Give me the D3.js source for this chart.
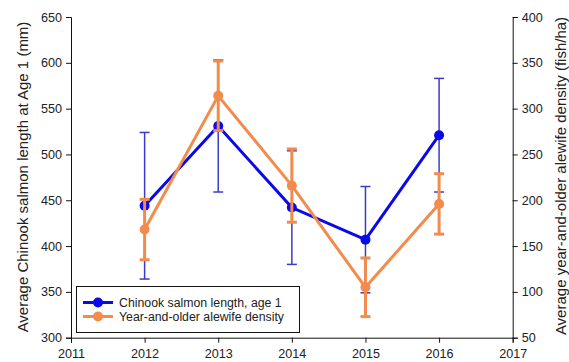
<!DOCTYPE html>
<html><head><meta charset="utf-8">
<script src="https://cdn.jsdelivr.net/npm/d3@7"></script>
<style>body{margin:0;background:#fff}svg{display:block}text{font-family:Arial,"Liberation Sans",sans-serif}</style>
</head><body>
<script>
const years = [2012, 2013, 2014, 2015, 2016];
const salmonLength = [444, 531, 442, 407, 521];
const salmonErr = [80, 72, 62, 58, 62];
const alewifeDensity = [168, 314, 216, 105, 196];
const alewifeErr = [33, 38, 40, 32, 33];
const xTicks = [2011, 2012, 2013, 2014, 2015, 2016, 2017];
const leftTicks = [300, 350, 400, 450, 500, 550, 600, 650];
const rightTicks = [50, 100, 150, 200, 250, 300, 350, 400];
const seriesNames = ["Chinook salmon length, age 1", "Year-and-older alewife density"];

const W = 569, H = 362;
const m = {l: 71, r: 56.3, t: 17, b: 24.3};
const svg = d3.select("body").append("svg").attr("width", W).attr("height", H);
const x = d3.scaleLinear().domain([2011, 2017]).range([m.l, W - m.r]);
const yL = d3.scaleLinear().domain([300, 650]).range([H - m.b, m.t]);
const yR = d3.scaleLinear().domain([50, 400]).range([H - m.b, m.t]);

const blue = "#0a0ae6", blueErr = "#3b3bc8", orange = "#f38b4c";

function styleAxis(g){
  g.selectAll("path,line").attr("stroke", "#111").attr("stroke-width", 1);
  g.selectAll("text").attr("fill", "#222").style("font-size", "12.6px");
}
svg.append("g").attr("transform", `translate(0,${H - m.b})`)
  .call(d3.axisBottom(x).tickValues(xTicks).tickFormat(d3.format("d")).tickSizeOuter(0).tickSize(5).tickPadding(6))
  .call(styleAxis);
svg.append("g").attr("transform", `translate(${m.l},0)`)
  .call(d3.axisLeft(yL).tickValues(leftTicks).tickSizeOuter(0).tickSize(5).tickPadding(4))
  .call(styleAxis);
svg.append("g").attr("transform", `translate(${W - m.r},0)`)
  .call(d3.axisRight(yR).tickValues(rightTicks).tickSizeOuter(0).tickSize(5).tickPadding(4))
  .call(styleAxis);

svg.append("text").attr("transform", `translate(27.5,177) rotate(-90)`).attr("text-anchor", "middle")
  .style("font-size", "15px").attr("fill", "#222").text("Average Chinook salmon length at Age 1 (mm)");
svg.append("text").attr("transform", `translate(566,176) rotate(-90)`).attr("text-anchor", "middle")
  .style("font-size", "15px").attr("fill", "#222").text("Average year-and-older alewife density (fish/ha)");

function drawSeries(vals, errs, y, color, ecolor, ew, lw){
  const g = svg.append("g");
  const data = years.map((yr, i) => ({yr, v: vals[i], e: errs[i]}));
  g.selectAll(".eb").data(data).join("line")
    .attr("x1", d => x(d.yr)).attr("x2", d => x(d.yr))
    .attr("y1", d => y(d.v - d.e)).attr("y2", d => y(d.v + d.e))
    .attr("stroke", ecolor).attr("stroke-width", ew);
  [-1, 1].forEach(s => {
    g.selectAll(".cap" + s).data(data).join("line")
      .attr("x1", d => x(d.yr) - 5).attr("x2", d => x(d.yr) + 5)
      .attr("y1", d => y(d.v + s * d.e)).attr("y2", d => y(d.v + s * d.e))
      .attr("stroke", ecolor).attr("stroke-width", ew);
  });
  g.append("path").datum(data)
    .attr("d", d3.line().x(d => x(d.yr)).y(d => y(d.v)))
    .attr("fill", "none").attr("stroke", color).attr("stroke-width", lw);
  g.selectAll("circle").data(data).join("circle")
    .attr("cx", d => x(d.yr)).attr("cy", d => y(d.v)).attr("r", 5).attr("fill", color);
}
drawSeries(salmonLength, salmonErr, yL, blue, blueErr, 1.5, 3);
drawSeries(alewifeDensity, alewifeErr, yR, orange, orange, 3, 3);

const lg = svg.append("g");
lg.append("rect").attr("x", 76.5).attr("y", 286.5).attr("width", 223).attr("height", 46)
  .attr("fill", "#fff").attr("stroke", "#111").attr("stroke-width", 1);
[blue, orange].forEach((c, i) => {
  const yy = 302.5 + i * 14;
  lg.append("line").attr("x1", 83).attr("x2", 113).attr("y1", yy).attr("y2", yy).attr("stroke", c).attr("stroke-width", 3);
  lg.append("circle").attr("cx", 98).attr("cy", yy).attr("r", 5).attr("fill", c);
  lg.append("text").attr("x", 119).attr("y", yy + 4.5).style("font-size", "12.3px").attr("fill", "#222").text(seriesNames[i]);
});
</script>
</body></html>
